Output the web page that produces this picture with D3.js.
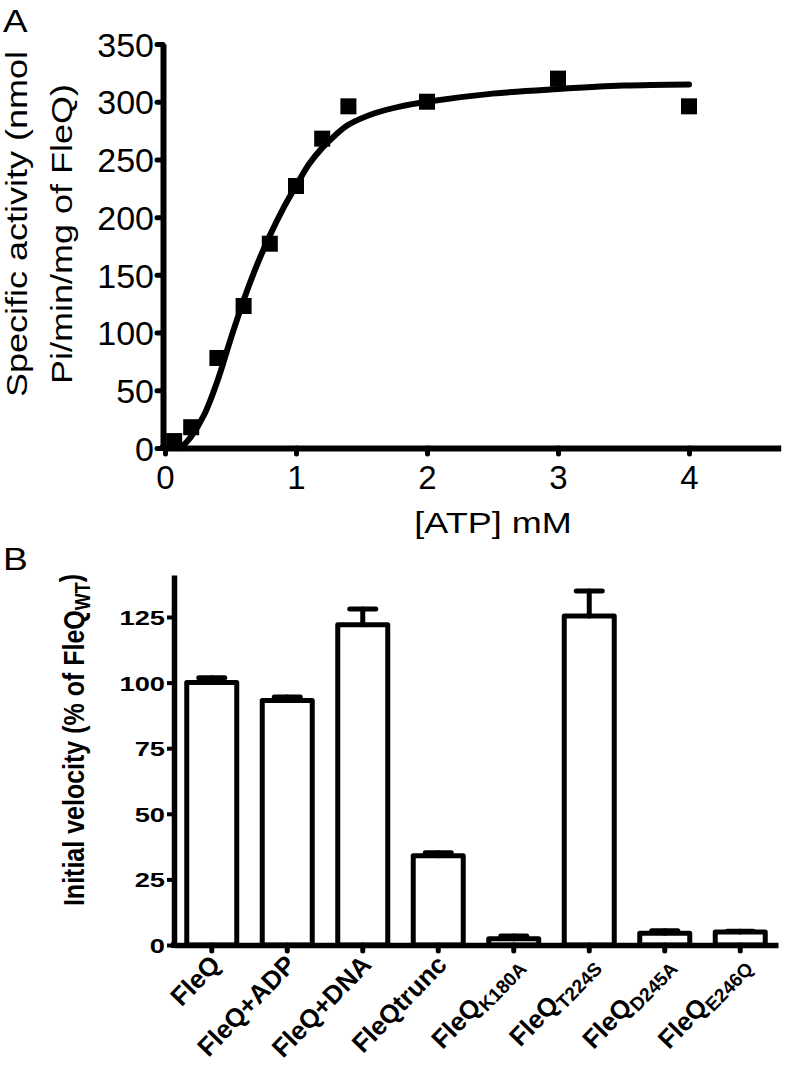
<!DOCTYPE html>
<html><head><meta charset="utf-8">
<script src="https://cdn.jsdelivr.net/npm/d3@7"></script>
<style>
body{margin:0;background:#fff}
svg{display:block}
text{font-family:"Liberation Sans",Arial,sans-serif;fill:#000}
</style>
</head><body>
<svg id="c" width="786" height="1070"></svg>
<script>
// ---------- Panel A data ----------
const atpPoints = [0.07, 0.2, 0.4, 0.6, 0.8, 1.0, 1.2, 1.4, 2, 3, 4];
const activityPoints = [6, 18, 78, 123, 177, 227, 268, 296, 300, 320, 296];
const fitAtp = [0.12, 0.2, 0.3, 0.4, 0.5, 0.6, 0.7, 0.8, 0.9, 1.0, 1.1, 1.2, 1.3, 1.4, 1.6, 1.8, 2.0, 2.5, 3.0, 3.5, 4.0];
const fitActivity = [0, 10, 29, 58, 94, 128, 158, 184, 207, 227, 246, 260, 271, 280, 290, 296, 300, 307, 311, 314, 315];
const aXTicks = [0, 1, 2, 3, 4];
const aYTicks = [0, 50, 100, 150, 200, 250, 300, 350];

// ---------- Panel B data ----------
const categories = ["FleQ", "FleQ+ADP", "FleQ+DNA", "FleQtrunc", "FleQK180A", "FleQT224S", "FleQD245A", "FleQE246Q"];
const labelMain = ["FleQ", "FleQ+ADP", "FleQ+DNA", "FleQtrunc", "FleQ", "FleQ", "FleQ", "FleQ"];
const labelSub = ["", "", "", "", "K180A", "T224S", "D245A", "E246Q"];
const velocity = [100, 93.2, 122, 34, 2.4, 125.4, 4.5, 5];
const velocityErr = [1.8, 1.3, 6, 1.2, 1, 9.5, 0.9, 0.2];
const bYTicks = [0, 25, 50, 75, 100, 125];

const svg = d3.select("#c");
const FF = '"Liberation Sans",Arial,sans-serif';

// ================= Panel A =================
const xA = d3.scaleLinear().domain([0, 4.7]).range([165, 780.7]);
const yA = d3.scaleLinear().domain([0, 350]).range([448, 44]);

const yAxA = svg.append("g").attr("transform", "translate(163,0)")
  .call(d3.axisLeft(yA).tickValues(aYTicks).tickSize(6).tickSizeOuter(0).tickPadding(3).tickFormat(d3.format("d")));
yAxA.select(".domain").attr("stroke", "#000").attr("stroke-width", 6);
yAxA.selectAll(".tick line").attr("stroke", "#000").attr("stroke-width", 5).attr("stroke-linecap", "round");
yAxA.selectAll(".tick text").attr("font-size", 34).attr("font-family", FF).attr("dy", "0.36em").attr("fill", "#000");

const xAxA = svg.append("g").attr("transform", "translate(0,448)")
  .call(d3.axisBottom(xA).tickValues(aXTicks).tickSize(6).tickSizeOuter(0).tickPadding(12).tickFormat(d3.format("d")));
xAxA.select(".domain").attr("stroke", "#000").attr("stroke-width", 6);
xAxA.selectAll(".tick line").attr("stroke", "#000").attr("stroke-width", 5).attr("stroke-linecap", "round");
xAxA.selectAll(".tick text").attr("font-size", 33).attr("font-family", FF).attr("fill", "#000");
svg.append("line").attr("x1", 160).attr("x2", xA(0)).attr("y1", yA(0)).attr("y2", yA(0))
  .attr("stroke", "#000").attr("stroke-width", 6);
svg.append("line").attr("x1", 163).attr("x2", 163).attr("y1", yA(0)).attr("y2", yA(0) + 3)
  .attr("stroke", "#000").attr("stroke-width", 6);

// fitted curve
const fitData = fitAtp.map((x, i) => ({x, y: fitActivity[i]}));
svg.append("path").datum(fitData)
  .attr("d", d3.line().x(d => xA(d.x)).y(d => yA(d.y)).curve(d3.curveCatmullRom.alpha(0.5)))
  .attr("fill", "none").attr("stroke", "#000").attr("stroke-width", 6).attr("stroke-linecap", "round");

// data squares
const sq = 16;
svg.append("g").selectAll("rect").data(atpPoints.map((x, i) => ({x, y: activityPoints[i]})))
  .join("rect")
  .attr("x", d => xA(d.x) - sq / 2).attr("y", d => yA(d.y) - sq / 2)
  .attr("width", sq).attr("height", sq).attr("fill", "#000");

// titles
svg.append("text").attr("transform", "translate(27,224) scale(1,1.2) rotate(-90)")
  .attr("text-anchor", "middle").attr("font-size", 30).text("Specific activity (nmol");
svg.append("text").attr("transform", "translate(72,234) scale(1,1.2) rotate(-90)")
  .attr("text-anchor", "middle").attr("font-size", 30).text("Pi/min/mg of FleQ)");
svg.append("text").attr("transform", "translate(493,533) scale(1.2,1)")
  .attr("text-anchor", "middle").attr("font-size", 30).text("[ATP] mM");
svg.append("text").attr("transform", "translate(3,32) scale(1.15,1)")
  .attr("font-size", 32).text("A");

// ================= Panel B =================
const xB = d3.scaleBand().domain(categories).range([174, 778]).padding(0);
const yB = d3.scaleLinear().domain([0, 141]).range([945, 575]);
const bw = 50;
const cx = c => xB(c) + xB.bandwidth() / 2;

svg.append("g").selectAll("rect").data(categories)
  .join("rect")
  .attr("x", d => cx(d) - bw / 2)
  .attr("y", (d, i) => yB(velocity[i]))
  .attr("width", bw)
  .attr("height", (d, i) => yB(0) - yB(velocity[i]))
  .attr("fill", "#fff").attr("stroke", "#000").attr("stroke-width", 5).attr("stroke-linejoin", "round");

const eb = svg.append("g").attr("stroke", "#000").attr("stroke-width", 5).attr("stroke-linecap", "round");
categories.forEach((c, i) => {
  const top = yB(velocity[i] + velocityErr[i]);
  eb.append("line").attr("x1", cx(c)).attr("x2", cx(c)).attr("y1", yB(velocity[i])).attr("y2", top);
  eb.append("line").attr("x1", cx(c) - 13).attr("x2", cx(c) + 13).attr("y1", top).attr("y2", top);
});

const yAxB = svg.append("g").attr("transform", "translate(174,0)")
  .call(d3.axisLeft(yB).tickValues(bYTicks).tickSize(7).tickSizeOuter(0).tickPadding(2).tickFormat(d3.format("d")));
yAxB.select(".domain").attr("stroke", "#000").attr("stroke-width", 5.5);
yAxB.selectAll(".tick line").attr("stroke", "#000").attr("stroke-width", 4);
yAxB.selectAll(".tick text").attr("font-size", 21).attr("font-weight", "bold")
  .attr("font-family", FF).attr("fill", "#000").attr("dy", "0.36em")
  .attr("transform", "translate(-9,0) scale(1.3,1) translate(9,0)");
svg.append("line").attr("x1", 174).attr("x2", 174).attr("y1", yB(0)).attr("y2", yB(0) + 3)
  .attr("stroke", "#000").attr("stroke-width", 5.5);

const xAxB = svg.append("g").attr("transform", "translate(0,945)")
  .call(d3.axisBottom(xB).tickSize(6).tickSizeOuter(0).tickFormat(""));
xAxB.select(".domain").attr("stroke", "#000").attr("stroke-width", 5.5);
xAxB.selectAll(".tick line").attr("stroke", "#000").attr("stroke-width", 5).attr("stroke-linecap", "round");
svg.append("line").attr("x1", 171).attr("x2", 174).attr("y1", 945).attr("y2", 945)
  .attr("stroke", "#000").attr("stroke-width", 5.5);

categories.forEach((c, i) => {
  const t = svg.append("text")
    .attr("transform", `translate(${cx(c) + 10},966) rotate(-46)`)
    .attr("text-anchor", "end").attr("font-size", 26).attr("font-weight", "bold");
  t.append("tspan").text(labelMain[i]);
  if (labelSub[i]) t.append("tspan").attr("font-size", 19).attr("dy", "0.3em").text(labelSub[i]);
});

const yt = svg.append("text").attr("transform", "translate(84,740) scale(1.2,1) rotate(-90)")
  .attr("text-anchor", "middle").attr("font-size", 25).attr("font-weight", "bold");
yt.append("tspan").text("Initial velocity (% of FleQ");
yt.append("tspan").attr("font-size", 18).attr("dy", "0.3em").text("WT");
yt.append("tspan").attr("dy", "-0.3em").text(")");

svg.append("text").attr("transform", "translate(3,570) scale(1.2,1)")
  .attr("font-size", 31).text("B");
</script>
</body></html>
